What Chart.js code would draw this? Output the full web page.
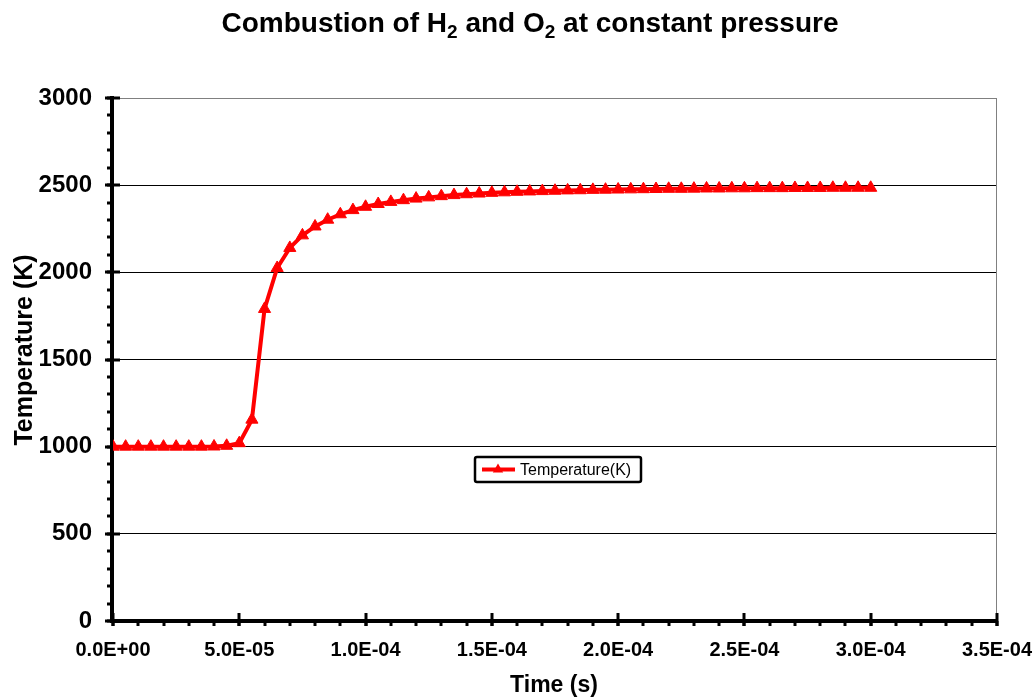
<!DOCTYPE html>
<html>
<head>
<meta charset="utf-8">
<script src="https://cdn.jsdelivr.net/npm/chart.js@4"></script>
<style>
html,body{margin:0;padding:0;background:#fff;}
canvas{display:block;}
</style>
</head>
<body>
<canvas id="c" width="1036" height="700"></canvas>
<script>
// ---- data ----
const timeValues = [
  0.0, 5e-6, 1.0e-5, 1.5e-5, 2.0e-5, 2.5e-5, 3.0e-5, 3.5e-5, 4.0e-5, 4.5e-5,
  5.0e-5, 5.5e-5, 6.0e-5, 6.5e-5, 7.0e-5, 7.5e-5, 8.0e-5, 8.5e-5, 9.0e-5, 9.5e-5,
  1.0e-4, 1.05e-4, 1.1e-4, 1.15e-4, 1.2e-4, 1.25e-4, 1.3e-4, 1.35e-4, 1.4e-4, 1.45e-4,
  1.5e-4, 1.55e-4, 1.6e-4, 1.65e-4, 1.7e-4, 1.75e-4, 1.8e-4, 1.85e-4, 1.9e-4, 1.95e-4,
  2.0e-4, 2.05e-4, 2.1e-4, 2.15e-4, 2.2e-4, 2.25e-4, 2.3e-4, 2.35e-4, 2.4e-4, 2.45e-4,
  2.5e-4, 2.55e-4, 2.6e-4, 2.65e-4, 2.7e-4, 2.75e-4, 2.8e-4, 2.85e-4, 2.9e-4, 2.95e-4,
  3.0e-4
];
const temperatureK = [
  1000, 1000, 1000, 1000, 1000, 1000, 1000, 1000, 1001, 1005,
  1020, 1155, 1790, 2025, 2140, 2212, 2263, 2302, 2333, 2357,
  2376, 2392, 2404, 2414, 2423, 2430, 2437, 2443, 2448, 2452,
  2456, 2459, 2462, 2464, 2466, 2468, 2470, 2471, 2473, 2474,
  2475, 2476, 2477, 2478, 2479, 2479, 2480, 2481, 2481, 2482,
  2482, 2483, 2483, 2483, 2484, 2484, 2484, 2485, 2485, 2485,
  2485
];
const seriesName = "Temperature(K)";
const chartTitleParts = [["Combustion of H", false], ["2", true], [" and O", false], ["2", true], [" at constant pressure", false]];
const xAxisTitle = "Time (s)";
const yAxisTitle = "Temperature (K)";
const xRange = [0, 3.5e-4, 5e-5, 1e-5];   // min, max, major step, minor step
const yRange = [0, 3000, 500, 100];

const FONT = "'Liberation Sans', Arial, sans-serif";

function fmtExp(v) {
  let s = Number(v).toExponential(1).toUpperCase();
  return s.replace(/E([+-])(\d)$/, 'E$10$2');
}

const customAxes = {
  id: 'customAxes',
  beforeDatasetsDraw(chart) {
    const ctx = chart.ctx, a = chart.chartArea;
    const xs = chart.scales.x, ys = chart.scales.y;
    ctx.save();
    // plot area border
    ctx.strokeStyle = '#808080';
    ctx.lineWidth = 1;
    ctx.strokeRect(a.left + 0.5, a.top + 0.5, a.right - a.left - 1, a.bottom - a.top);
    ctx.strokeStyle = '#000';
    ctx.lineCap = 'butt';
    // minor ticks y
    ctx.lineWidth = 3;
    for (let v = yRange[0]; v <= yRange[1] + 1e-9; v += yRange[3]) {
      const y = Math.round(ys.getPixelForValue(v));
      ctx.beginPath(); ctx.moveTo(a.left - 6, y); ctx.lineTo(a.left, y); ctx.stroke();
    }
    // major ticks y
    for (let v = yRange[0]; v <= yRange[1] + 1e-9; v += yRange[2]) {
      const y = Math.round(ys.getPixelForValue(v));
      ctx.beginPath(); ctx.moveTo(a.left - 8, y); ctx.lineTo(a.left + 7, y); ctx.stroke();
    }
    // minor ticks x
    for (let k = 0; k <= Math.round((xRange[1] - xRange[0]) / xRange[3]); k++) {
      const x = Math.round(xs.getPixelForValue(xRange[0] + k * xRange[3]));
      ctx.beginPath(); ctx.moveTo(x, a.bottom); ctx.lineTo(x, a.bottom + 5); ctx.stroke();
    }
    for (let k = 0; k <= Math.round((xRange[1] - xRange[0]) / xRange[2]); k++) {
      const x = Math.round(xs.getPixelForValue(xRange[0] + k * xRange[2]));
      ctx.beginPath(); ctx.moveTo(x, a.bottom - 8); ctx.lineTo(x, a.bottom + 5); ctx.stroke();
    }
    // axis lines
    ctx.lineWidth = 4;
    ctx.beginPath(); ctx.moveTo(a.left - 1, a.top - 2); ctx.lineTo(a.left - 1, a.bottom + 2); ctx.stroke();
    ctx.beginPath(); ctx.moveTo(a.left - 2, a.bottom); ctx.lineTo(a.right + 1, a.bottom); ctx.stroke();
    ctx.restore();
  },
  afterDraw(chart) {
    const ctx = chart.ctx;
    ctx.save();
    // title with subscripts
    const big = "bold 28px " + FONT, small = "bold 19px " + FONT;
    let total = 0;
    for (const [t, sub] of chartTitleParts) { ctx.font = sub ? small : big; total += ctx.measureText(t).width; }
    let x = 530 - total / 2;
    ctx.fillStyle = '#000';
    ctx.textBaseline = 'alphabetic';
    ctx.textAlign = 'left';
    for (const [t, sub] of chartTitleParts) {
      ctx.font = sub ? small : big;
      ctx.fillText(t, x, sub ? 38 : 32);
      x += ctx.measureText(t).width;
    }
    // axis titles
    ctx.font = "bold 23px " + FONT;
    ctx.textAlign = 'center';
    ctx.fillText(xAxisTitle, 554, 692);
    ctx.save();
    ctx.translate(32, 350);
    ctx.rotate(-Math.PI / 2);
    ctx.font = "bold 25px " + FONT;
    ctx.fillText(yAxisTitle, 0, 0);
    ctx.restore();
    // legend
    const lx = 475, ly = 457, lw = 166, lh = 25;
    ctx.fillStyle = '#fff';
    ctx.fillRect(lx, ly, lw, lh);
    ctx.strokeStyle = '#000';
    ctx.lineWidth = 2.5;
    ctx.beginPath();
    if (ctx.roundRect) ctx.roundRect(lx, ly, lw, lh, 2); else ctx.rect(lx, ly, lw, lh);
    ctx.stroke();
    const cy = ly + lh / 2;
    ctx.strokeStyle = '#FF0000';
    ctx.lineWidth = 4;
    ctx.beginPath(); ctx.moveTo(482, cy); ctx.lineTo(515, cy); ctx.stroke();
    ctx.fillStyle = '#FF0000';
    const r = 6, mx = 498;
    ctx.beginPath();
    ctx.moveTo(mx, cy - r);
    ctx.lineTo(mx + r * 0.866, cy + r * 0.5);
    ctx.lineTo(mx - r * 0.866, cy + r * 0.5);
    ctx.closePath(); ctx.fill();
    ctx.fillStyle = '#000';
    ctx.font = "16px " + FONT;
    ctx.textAlign = 'left';
    ctx.textBaseline = 'middle';
    ctx.fillText(seriesName, 520, cy + 1);
    ctx.restore();
  }
};

const points = timeValues.map((t, i) => ({ x: t, y: temperatureK[i] }));

new Chart(document.getElementById('c'), {
  type: 'line',
  data: {
    datasets: [{
      label: seriesName,
      data: points,
      borderColor: '#FF0000',
      backgroundColor: '#FF0000',
      borderWidth: 4,
      pointStyle: 'triangle',
      pointRadius: 7,
      pointBorderWidth: 1,
      pointBackgroundColor: '#FF0000',
      pointBorderColor: '#FF0000',
      tension: 0,
      fill: false
    }]
  },
  options: {
    responsive: false,
    animation: false,
    events: [],
    layout: { padding: { left: 0, right: 39, top: 98, bottom: 0 } },
    plugins: {
      legend: { display: false },
      title: { display: false },
      tooltip: { enabled: false }
    },
    scales: {
      x: {
        type: 'linear',
        min: xRange[0], max: xRange[1],
        afterFit(s) { s.height = 79; s.paddingLeft = 0; s.paddingRight = 0; },
        afterBuildTicks(s) {
          const t = [];
          for (let k = 0; k <= Math.round((xRange[1] - xRange[0]) / xRange[2]); k++) t.push({ value: xRange[0] + k * xRange[2] });
          s.ticks = t;
        },
        grid: { display: false, drawTicks: false },
        border: { display: false },
        ticks: {
          padding: 17,
          color: '#000',
          font: { family: FONT, size: 20, weight: 'bold' },
          maxRotation: 0,
          autoSkip: false,
          callback: v => fmtExp(v)
        }
      },
      y: {
        type: 'linear',
        min: yRange[0], max: yRange[1],
        afterFit(s) { s.width = 113; s.paddingTop = 0; s.paddingBottom = 0; },
        grid: {
          drawTicks: false,
          color: c => (c.tick && c.tick.value === yRange[1]) ? 'rgba(0,0,0,0)' : '#000',
          lineWidth: 1
        },
        border: { display: false },
        ticks: {
          stepSize: yRange[2],
          padding: 21,
          color: '#000',
          font: { family: FONT, size: 24, weight: 'bold' },
          callback: v => String(v)
        }
      }
    }
  },
  plugins: [customAxes]
});
</script>
</body>
</html>
